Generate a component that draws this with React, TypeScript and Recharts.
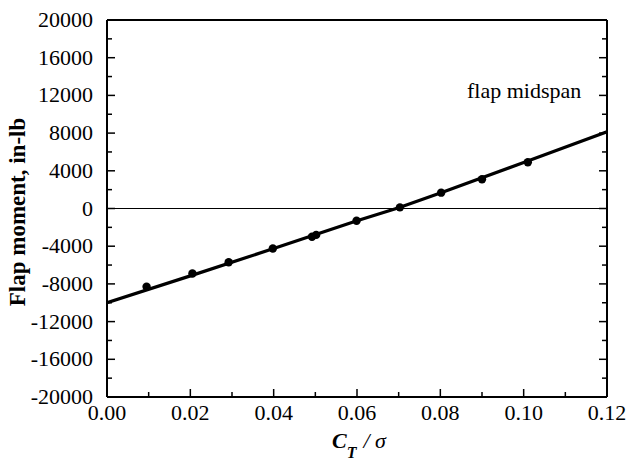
import React from "react";
import {
  ComposedChart,
  Line,
  Scatter,
  XAxis,
  YAxis,
  ReferenceLine,
  ReferenceDot,
} from "recharts";

// measured points
const ctSigma = [0.0095, 0.0205, 0.0292, 0.0398, 0.0492, 0.0502, 0.0599, 0.0703, 0.0802, 0.09, 0.101];
const flapMoment = [-8300, -6900, -5700, -4250, -3000, -2800, -1300, 120, 1680, 3100, 4900];

// fitted curve
const fitCt = [0, 0.02, 0.04, 0.06, 0.07, 0.08, 0.1, 0.12];
const fitMoment = [-10000, -7150, -4250, -1300, 80, 1650, 4880, 8150];

const xTicks = [0, 0.01, 0.02, 0.03, 0.04, 0.05, 0.06, 0.07, 0.08, 0.09, 0.1, 0.11, 0.12];
const yTicks = [
  -20000, -18000, -16000, -14000, -12000, -10000, -8000, -6000, -4000, -2000, 0, 2000, 4000, 6000,
  8000, 10000, 12000, 14000, 16000, 18000, 20000,
];

const points = ctSigma.map((x, i) => ({ x, y: flapMoment[i] }));
const fit = fitCt.map((x, i) => ({ x, y: fitMoment[i] }));

const FONT = "Liberation Serif, Times New Roman, serif";
const serif = { fontFamily: FONT, fontSize: 22, fill: "#000" };
const W = 629;
const H = 465;
const LEFT = 107;
const RIGHT = 607;
const TOP = 20;
const BOTTOM = 397;

const isMajorX = (v: number) => Math.round(v * 100) % 2 === 0;
const isMajorY = (v: number) => Math.round(v / 2000) % 2 === 0;

const BottomTick = (props: any) => {
  const { x, payload } = props;
  const major = isMajorX(payload.value);
  return (
    <g>
      <line x1={x} x2={x} y1={BOTTOM} y2={BOTTOM - (major ? 8 : 5)} stroke="#000" strokeWidth={1.5} />
      {major && (
        <text x={x} y={420} textAnchor="middle" style={serif}>
          {payload.value.toFixed(2)}
        </text>
      )}
    </g>
  );
};

const TopTick = (props: any) => {
  const { x, payload } = props;
  const major = isMajorX(payload.value);
  return <line x1={x} x2={x} y1={TOP} y2={TOP + (major ? 8 : 5)} stroke="#000" strokeWidth={1.5} />;
};

const LeftTick = (props: any) => {
  const { y, payload } = props;
  const major = isMajorY(payload.value);
  return (
    <g>
      <line x1={LEFT} x2={LEFT + (major ? 8 : 5)} y1={y} y2={y} stroke="#000" strokeWidth={1.5} />
      {major && (
        <text x={93} y={y + 7} textAnchor="end" style={serif}>
          {payload.value}
        </text>
      )}
    </g>
  );
};

const RightTick = (props: any) => {
  const { y, payload } = props;
  const major = isMajorY(payload.value);
  return <line x1={RIGHT} x2={RIGHT - (major ? 8 : 5)} y1={y} y2={y} stroke="#000" strokeWidth={1.5} />;
};

const Dot = (props: any) => <circle cx={props.cx} cy={props.cy} r={4.2} fill="#000" />;

export default function App() {
  return (
    <div style={{ position: "absolute", left: 0, top: 0, width: W, height: H, background: "#fff" }}>
      <ComposedChart width={W} height={H} margin={{ top: 0, right: 0, bottom: 0, left: 0 }}>
        <XAxis
          dataKey="x"
          type="number"
          domain={[0, 0.12]}
          ticks={xTicks}
          interval={0}
          height={H - BOTTOM}
          axisLine={{ stroke: "#000", strokeWidth: 2 }}
          tickLine={false}
          tick={<BottomTick />}
          allowDataOverflow
          label={() => (
            <text x={332} y={448} style={{ fontFamily: FONT, fontSize: 22, fill: "#000" }}>
              <tspan fontWeight="bold" fontStyle="italic">C</tspan>
              <tspan fontWeight="bold" fontStyle="italic" fontSize={16} dy={10}>T</tspan>
              <tspan fontStyle="italic" dy={-10} dx={7}>/ σ</tspan>
            </text>
          )}
        />
        <XAxis
          xAxisId="top"
          orientation="top"
          type="number"
          domain={[0, 0.12]}
          ticks={xTicks}
          interval={0}
          height={TOP}
          axisLine={{ stroke: "#000", strokeWidth: 2 }}
          tickLine={false}
          tick={<TopTick />}
          allowDataOverflow
        />
        <YAxis
          dataKey="y"
          type="number"
          domain={[-20000, 20000]}
          ticks={yTicks}
          interval={0}
          width={LEFT}
          axisLine={{ stroke: "#000", strokeWidth: 2 }}
          tickLine={false}
          tick={<LeftTick />}
          allowDataOverflow
          label={() => (
            <text
              x={25}
              y={212}
              transform="rotate(-90 25 212)"
              textAnchor="middle"
              style={{ ...serif, fontSize: 23, fontWeight: "bold" }}
            >
              Flap moment, in-lb
            </text>
          )}
        />
        <YAxis
          yAxisId="right"
          orientation="right"
          type="number"
          domain={[-20000, 20000]}
          ticks={yTicks}
          interval={0}
          width={W - RIGHT}
          axisLine={{ stroke: "#000", strokeWidth: 2 }}
          tickLine={false}
          tick={<RightTick />}
          allowDataOverflow
        />
        <ReferenceLine y={0} stroke="#000" strokeWidth={1.2} />
        <Line
          data={fit}
          dataKey="y"
          type="linear"
          stroke="#000"
          strokeWidth={3.2}
          dot={false}
          activeDot={false}
          isAnimationActive={false}
        />
        <Scatter data={points} dataKey="y" shape={<Dot />} isAnimationActive={false} />
        <ReferenceDot
          x={0.0864}
          y={12500}
          r={0}
          fill="none"
          stroke="none"
          label={(p: any) => (
            <text x={p.viewBox.x} y={p.viewBox.y + 7} style={serif}>
              flap midspan
            </text>
          )}
        />
      </ComposedChart>
    </div>
  );
}
